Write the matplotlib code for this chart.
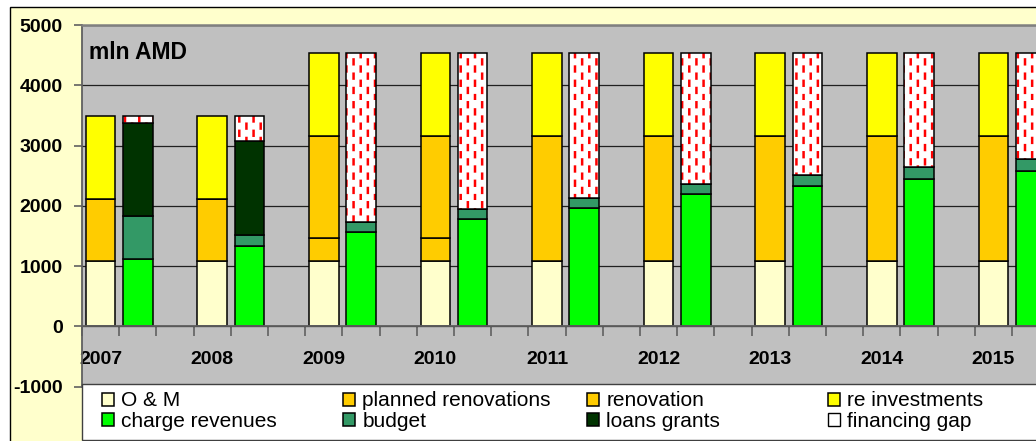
import numpy as np
import matplotlib
matplotlib.use("Agg")
import matplotlib.pyplot as plt
import matplotlib.hatch as mhatch
from matplotlib.path import Path
from matplotlib.patches import Rectangle, Patch

# ---------------- data ----------------
years = ["2007", "2008", "2009", "2010", "2011", "2012", "2013", "2014", "2015"]

# needs (first bar of each year)
om          = [1090, 1090, 1090, 1090, 1090, 1090, 1090, 1090, 1090]
planned_ren = [1020, 1020, 370, 370, 0, 0, 0, 0, 0]
renovation  = [0, 0, 1695, 1695, 2065, 2065, 2065, 2065, 2065]
re_invest   = [1375, 1375, 1385, 1385, 1385, 1385, 1385, 1385, 1385]

# sources (second bar of each year)
charge_rev  = [1120, 1340, 1560, 1790, 1970, 2190, 2330, 2440, 2580]
budget      = [715, 180, 165, 165, 165, 177, 177, 203, 202]
loans       = [1540, 1550, 0, 0, 0, 0, 0, 0, 0]
fin_gap     = [110, 415, 2815, 2585, 2405, 2173, 2033, 1897, 1758]

y_ticks = [-1000, 0, 1000, 2000, 3000, 4000, 5000]
unit_label = "mln AMD"

# ---------------- custom dashed hatch ----------------
class DashedVerticalHatch(mhatch.HatchPatternBase):
    def __init__(self, hatch, density):
        self.n = 7 if '|' in hatch else 0
        self.num_vertices = self.n * self.n * 4

    def set_vertices_and_codes(self, vertices, codes):
        n = self.n
        P = 1.0 / n
        dl = 0.34 * P
        k = 0
        for i in range(n):
            for j in range(n):
                for dx, dy in ((0.0, 0.0), (0.5, 0.5)):
                    x = (i + dx + 0.25) * P
                    y = (j + dy) * P
                    vertices[k] = (x, y)
                    vertices[k + 1] = (x, y + dl)
                    codes[k] = Path.MOVETO
                    codes[k + 1] = Path.LINETO
                    k += 2

mhatch._hatch_types = [DashedVerticalHatch if t is mhatch.VerticalHatch else t
                       for t in mhatch._hatch_types]
plt.rcParams['hatch.linewidth'] = 1.8

# ---------------- figure ----------------
plt.rcParams['font.family'] = ['Liberation Sans', 'DejaVu Sans']
W, H = 1036, 441
fig = plt.figure(figsize=(W / 100, H / 100), dpi=100, facecolor='white')

# outer chart area (light yellow)
fig.add_artist(Rectangle((10 / W, -0.05), 1.2, 1 - 7 / H + 0.05, transform=fig.transFigure,
                         facecolor='#FFFFCC', edgecolor='black', lw=1.0, zorder=-5))

cat_w = 37.2
ax_left, ax_top, ax_bot = 82, 25, 386.7
ax = fig.add_axes([ax_left / W, 1 - ax_bot / H, 26 * cat_w / W, (ax_bot - ax_top) / H])
ax.set_facecolor('#C0C0C0')

n = len(years)
x1 = np.arange(n) * 3
x2 = x1 + 1
bw = 0.8
ekw = dict(edgecolor='black', linewidth=1.1)

b = np.zeros(n)
h_om = ax.bar(x1, om, bw, bottom=b, color='#FFFFCC', **ekw); b += om
h_pr = ax.bar(x1, planned_ren, bw, bottom=b, color='#FFCC00', **ekw); b += planned_ren
h_rn = ax.bar(x1, renovation, bw, bottom=b, color='#FFCC00', **ekw); b += renovation
h_ri = ax.bar(x1, re_invest, bw, bottom=b, color='#FFFF00', **ekw); b += re_invest

b = np.zeros(n)
h_cr = ax.bar(x2, charge_rev, bw, bottom=b, color='#00FF00', **ekw); b += charge_rev
h_bu = ax.bar(x2, budget, bw, bottom=b, color='#339966', **ekw); b += budget
h_lg = ax.bar(x2, loans, bw, bottom=b, color='#003300', **ekw); b += loans
ax.bar(x2, fin_gap, bw, bottom=b, facecolor='white', edgecolor='#FF0000', linewidth=0, hatch='|')
ax.bar(x2, fin_gap, bw, bottom=b, fill=False, **ekw)
h_fg = Patch(facecolor='white', edgecolor='black', linewidth=1.0)

ax.set_xlim(-0.5, 25.5)
ax.set_ylim(-1000, 5000)

ax.spines['bottom'].set_position(('data', 0))
ax.spines['bottom'].set_color('#606060')
ax.spines['bottom'].set_linewidth(1.3)
ax.spines['left'].set_color('#606060')
ax.spines['left'].set_linewidth(1.3)
ax.spines['top'].set_color('#808080')
ax.spines['top'].set_linewidth(1.8)
ax.spines['right'].set_visible(False)

ax.tick_params(axis='y', length=6, width=1.2, color='#606060', pad=8)
ax.tick_params(axis='x', which='major', length=7, width=1.2, color='#606060', direction='out')
ax.tick_params(axis='x', which='minor', length=0, pad=17.5)

ax.set_yticks(y_ticks)
ax.set_yticklabels([str(v) for v in y_ticks], fontweight='bold', fontsize=14)
ax.set_xticks(np.arange(-0.5, 26, 1.0))
ax.set_xticklabels([])
ax.set_xticks(x1, minor=True)
ax.set_xticklabels(years, minor=True, fontweight='bold', fontsize=14)

ax.set_axisbelow(True)
ax.yaxis.grid(True, color='#202020', linewidth=0.9)

fig.text(89 / W, 1 - 59 / H, unit_label, fontsize=16.5, fontweight='bold', va='baseline', ha='left')

# legend box
fig.add_artist(Rectangle((82 / W, 1 - 440 / H), 1.0, (440 - 384) / H, transform=fig.transFigure,
                         facecolor='white', edgecolor='#404040', lw=1.0, zorder=2))

entries = [
    (h_om, "O & M", 0, 0), (h_pr, "planned renovations", 1, 0),
    (h_rn, "renovation", 2, 0), (h_ri, "re investments", 3, 0),
    (h_cr, "charge revenues", 0, 1), (h_bu, "budget", 1, 1),
    (h_lg, "loans grants", 2, 1), (h_fg, "financing gap", 3, 1),
]
col_x = [102, 343, 587, 828]
row_y = [401, 421.5]
for hnd, lab, c, r in entries:
    leg = fig.legend([hnd], [lab], loc='center left',
                     bbox_to_anchor=(col_x[c] / W, 1 - row_y[r] / H),
                     bbox_transform=fig.transFigure, frameon=False, fontsize=15,
                     handlelength=0.58, handleheight=0.58, handletextpad=0.35,
                     borderpad=0, borderaxespad=0)
    leg.set_zorder(6)

fig.savefig("out.png", dpi=100, facecolor='white')
